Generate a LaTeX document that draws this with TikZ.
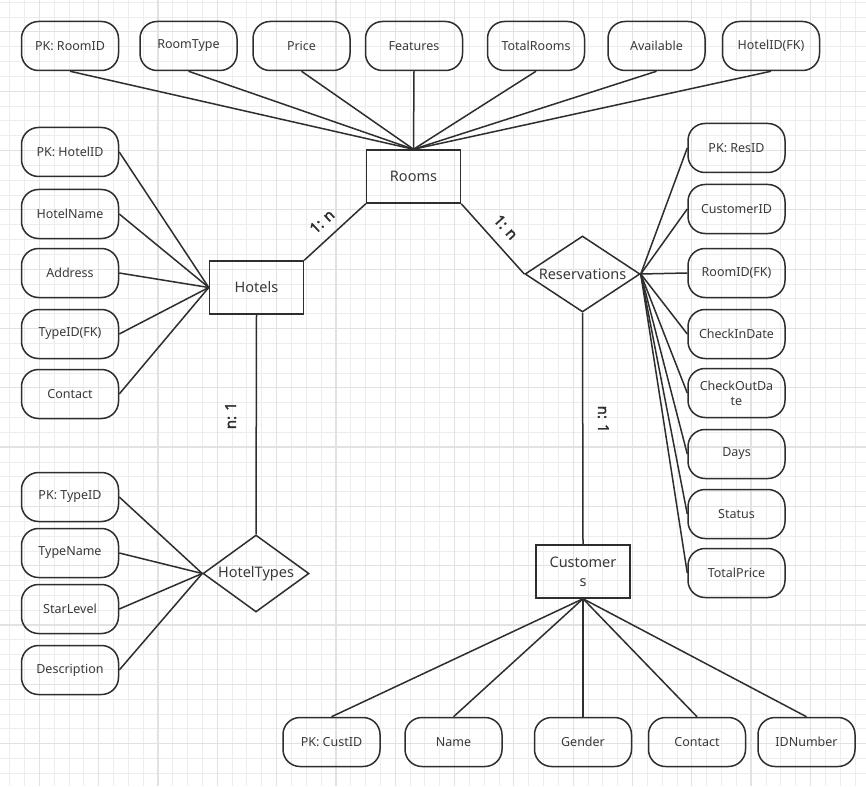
\documentclass[tikz,border=0pt]{standalone}
\usepackage{fontspec}
\setmainfont{Noto Sans}
\newfontfamily\cardfont{Noto Sans}[FakeBold=2.2]
\usepackage{tikz}
\usetikzlibrary{shapes,calc}
\definecolor{ink}{HTML}{2E2E2E}
\definecolor{txt}{HTML}{3A3A3A}
\definecolor{gridmin}{HTML}{EDEDED}
\definecolor{gridmaj}{HTML}{E2E2E2}

\begin{document}
\begin{tikzpicture}[x=1pt, y=-1pt]
\tikzstyle{main}=[draw=ink, line width=1.5pt, text=txt, font=\fontsize{12.5}{15}\selectfont, inner sep=0pt]
\tikzstyle{attr}=[main, rectangle, rounded corners=17pt, minimum width=97pt, minimum height=49pt]
\tikzstyle{entity}=[main, rectangle, minimum width=94pt, minimum height=53pt, align=center, font=\fontsize{14.5}{19}\selectfont]
\tikzstyle{rel}=[main, diamond, aspect=1.5, font=\fontsize{14.5}{17}\selectfont]
\tikzstyle{connect}=[draw=ink, line width=1.5pt]
\tikzstyle{card}=[text=ink, font=\cardfont\fontsize{15}{18}\selectfont]

  \useasboundingbox (0,0) rectangle (866,786);
  \fill[white] (0,0) rectangle (866,786);
  % background grid
  \foreach \i in {0,...,58} {
    \draw[gridmin, line width=1pt] ({9.7+14.83*\i},0) -- ({9.7+14.83*\i},786);
  }
  \foreach \i in {0,...,53} {
    \draw[gridmin, line width=1pt] (0,{2.3+14.83*\i}) -- (866,{2.3+14.83*\i});
  }
  \foreach \i in {0,...,14} {
    \draw[gridmaj, line width=1.2pt] ({39.4+59.3*\i},0) -- ({39.4+59.3*\i},786);
  }
  \foreach \i in {0,...,13} {
    \draw[gridmaj, line width=1.2pt] (0,{31.9+59.3*\i}) -- (866,{31.9+59.3*\i});
  }

  % entities and relationships
  \node[entity] (Rooms)     at (413.5,176.5) {Rooms};
  \node[entity] (Hotels)    at (256.5,287.5) {Hotels};
  \node[entity] (Customers) at (583,571.5)   {Customer\\s};
  \node[rel, minimum width=115pt, minimum height=76pt] (Reservations) at (582.5,274) {Reservations};
  \node[rel, minimum width=106pt, minimum height=77pt] (HotelTypes)   at (256,573.5) {HotelTypes};

  % Rooms attributes
  \node[attr] (RoomID)     at (70,46)    {PK: RoomID};
  \node[attr] (RoomType)   at (188.5,46) {RoomType};
  \node[attr] (Price)      at (301.5,46) {Price};
  \node[attr] (Features)   at (414,46)   {Features};
  \node[attr] (TotalRooms) at (536,46)   {TotalRooms};
  \node[attr] (Available)  at (656.5,46) {Available};
  \node[attr] (RHotelID)   at (771,46)   {HotelID(FK)};

  % Hotels attributes
  \node[attr] (HotelID)   at (70,152) {PK: HotelID};
  \node[attr] (HotelName) at (70,214) {HotelName};
  \node[attr] (Address)   at (70,273) {Address};
  \node[attr] (HTypeID)   at (70,334) {TypeID(FK)};
  \node[attr] (HContact)  at (70,394) {Contact};

  % HotelTypes attributes
  \node[attr] (TypeID)      at (70,497) {PK: TypeID};
  \node[attr] (TypeName)    at (70,553) {TypeName};
  \node[attr] (StarLevel)   at (70,609) {StarLevel};
  \node[attr] (Description) at (70,670) {Description};

  % Reservations attributes
  \node[attr] (ResID)        at (736.5,148) {PK: ResID};
  \node[attr] (CustomerID)   at (736.5,209) {CustomerID};
  \node[attr] (ResRoomID)    at (736.5,273) {RoomID(FK)};
  \node[attr] (CheckInDate)  at (736.5,334) {CheckInDate};
  \node[attr, align=center] (CheckOutDate) at (736.5,393) {CheckOutDa\\te};
  \node[attr] (Days)         at (736.5,454) {Days};
  \node[attr] (Status)       at (736.5,514) {Status};
  \node[attr] (TotalPrice)   at (736.5,573) {TotalPrice};

  % Customers attributes
  \node[attr] (CustID)   at (331.5,742) {PK: CustID};
  \node[attr] (Name)     at (453.5,742) {Name};
  \node[attr] (Gender)   at (583,742)   {Gender};
  \node[attr] (CContact) at (697,742)   {Contact};
  \node[attr] (IDNumber) at (806.5,742) {IDNumber};

  % attribute links
  \foreach \a in {RoomID,RoomType,Price,Features,TotalRooms,Available,RHotelID}
    \path[connect] (\a.south) -- (Rooms.north);
  \foreach \a in {HotelID,HotelName,Address,HTypeID,HContact}
    \path[connect] (\a.east) -- (Hotels.west);
  \foreach \a in {TypeID,TypeName,StarLevel,Description}
    \path[connect] (\a.east) -- (HotelTypes.west);
  \foreach \a in {ResID,CustomerID,ResRoomID,CheckInDate,CheckOutDate,Days,Status,TotalPrice}
    \path[connect] (\a.west) -- (Reservations.east);
  \foreach \a in {CustID,Name,Gender,CContact,IDNumber}
    \path[connect] (\a.north) -- (Customers.south);

  % relationships
  \path[connect] (Hotels.north east) -- node[card, pos=0.47, above=7pt, sloped] {1: n} (Rooms.south west);
  \path[connect] (Rooms.south east) -- node[card, pos=0.5, above=8pt, sloped] {1: n} (Reservations.west);
  \path[connect] (HotelTypes.north) -- node[card, pos=0.54, above=16pt, sloped] {n: 1} (Hotels.south);
  \path[connect] (Reservations.south) -- node[card, pos=0.46, above=11pt, sloped] {n: 1} (Customers.north);

\end{tikzpicture}
\end{document}
